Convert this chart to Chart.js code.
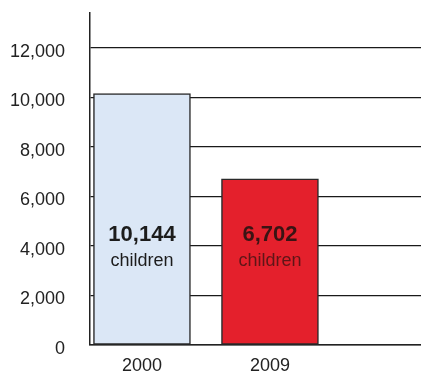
<!DOCTYPE html>
<html>
<head>
<meta charset="utf-8">
<script src="https://cdn.jsdelivr.net/npm/chart.js@4/dist/chart.umd.min.js"></script>
<style>
  html, body { margin: 0; padding: 0; background: #fff; }
  #chart { display: block; }
</style>
</head>
<body>
<canvas id="chart" width="421" height="376"></canvas>
<script>
// Children counts by year
const years = ['2000', '2009'];
const children = [10144, 6702];
const barColors = ['#dbe7f6', '#e4202c'];
const labelColors = [['#1c1c1c', '#1c1c1c'], ['#3a1414', 'rgba(70,20,20,0.85)']];
const yTicks = [0, 2000, 4000, 6000, 8000, 10000, 12000];

const fontFamily = '"Liberation Sans", Arial, Helvetica, sans-serif';

// value + "children" caption inside each bar
const barCaptions = {
  id: 'barCaptions',
  afterDatasetsDraw(chart) {
    const { ctx, scales } = chart;
    const meta = chart.getDatasetMeta(0);
    const yMid = scales.y.getPixelForValue(3950);
    ctx.save();
    ctx.textAlign = 'center';
    ctx.textBaseline = 'middle';
    meta.data.forEach((bar, i) => {
      ctx.fillStyle = labelColors[i][0];
      ctx.font = 'bold 22px ' + fontFamily;
      ctx.fillText(children[i].toLocaleString('en-US'), bar.x, yMid - 12);
      ctx.fillStyle = labelColors[i][1];
      ctx.font = '18px ' + fontFamily;
      ctx.fillText('children', bar.x, yMid + 14);
    });
    ctx.restore();
  }
};

new Chart(document.getElementById('chart'), {
  type: 'bar',
  data: {
    datasets: [{
      data: years.map((y, i) => ({ x: i, y: children[i] })),
      backgroundColor: barColors,
      borderColor: '#2a2a2a',
      borderWidth: 1.5,
      borderSkipped: false,
      barThickness: 97
    }]
  },
  options: {
    responsive: false,
    animation: false,
    events: [],
    layout: { padding: { top: 13, right: 0, left: 0, bottom: 0 } },
    plugins: {
      legend: { display: false },
      tooltip: { enabled: false }
    },
    scales: {
      x: {
        type: 'linear',
        bounds: 'data',
        offset: false,
        min: -0.406,
        max: 2.18,
        grid: { display: false, drawTicks: false },
        border: { display: true, color: '#222', width: 1.5 },
        afterBuildTicks: (scale) => {
          scale.ticks = years.map((y, i) => ({ value: i }));
        },
        ticks: {
          autoSkip: false,
          padding: 10,
          color: '#222',
          font: { family: fontFamily, size: 18 },
          callback: (v) => years[v] ?? ''
        },
        afterFit: (scale) => {
          scale.height = 31;
          scale.paddingLeft = 0;
          scale.paddingRight = 0;
        }
      },
      y: {
        bounds: 'data',
        min: 0,
        max: 13400,
        grid: { color: '#1a1a1a', lineWidth: 1.3, drawTicks: false },
        border: { display: true, color: '#222', width: 1.5 },
        afterBuildTicks: (scale) => {
          scale.ticks = yTicks.map((v) => ({ value: v }));
        },
        ticks: {
          autoSkip: false,
          padding: 25,
          labelOffset: 4,
          color: '#222',
          font: { family: fontFamily, size: 18 },
          callback: (v) => Number(v).toLocaleString('en-US')
        },
        afterFit: (scale) => {
          scale.width = 90;
          scale.paddingTop = 0;
          scale.paddingBottom = 0;
        }
      }
    }
  },
  plugins: [barCaptions]
});
</script>
</body>
</html>
